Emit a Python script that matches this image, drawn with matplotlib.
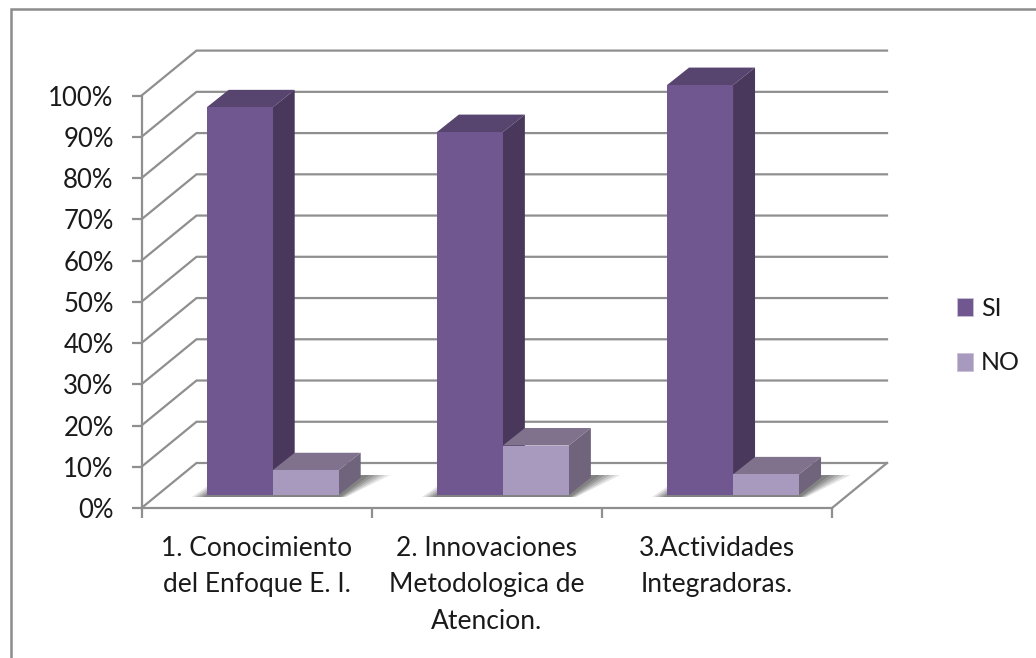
import matplotlib
matplotlib.use("Agg")
import matplotlib.pyplot as plt
from matplotlib.lines import Line2D
from matplotlib.patches import Polygon, Patch
from matplotlib.ticker import FuncFormatter

categories = ["1. Conocimiento\ndel Enfoque E. I.",
              "2. Innovaciones\nMetodologica de\nAtencion.",
              "3.Actividades\nIntegradoras."]
si_values = [94, 88, 99.4]
no_values = [6, 12, 5]
y_ticks = [0, 10, 20, 30, 40, 50, 60, 70, 80, 90, 100]
series_names = ["SI", "NO"]

W, H = 1036, 658
plt.rcParams['font.family'] = ['Lato', 'DejaVu Sans']
fig = plt.figure(figsize=(W / 100, H / 100), dpi=100)
fig.patch.set_facecolor('white')
fig.add_artist(Line2D([10.5 / W, 10.5 / W, 1], [0, 1 - 8.5 / H, 1 - 8.5 / H],
                      transform=fig.transFigure, color='#8c8c8c', lw=1.8,
                      solid_joinstyle='miter'))

L, R, T, B = 141.5, 832, 95.6, 508
ax = fig.add_axes([L / W, 1 - B / H, (R - L) / W, (B - T) / H])
ax.set_xlim(0, 3)
ax.set_ylim(0, 100)
ax.patch.set_alpha(0)

px = 3 / (R - L)
py = 100 / (B - T)
wall_dx, wall_dy = 55 * px, 45 * py
grid = '#8f8f8f'
for v in y_ticks:
    ax.plot([0, wall_dx, 3 + wall_dx], [v, v + wall_dy, v + wall_dy],
            color=grid, lw=1.6, clip_on=False, zorder=1, solid_joinstyle='miter')
ax.plot([3, 3 + wall_dx], [0, wall_dy], color=grid, lw=1.6, clip_on=False, zorder=1)

colors = {
    "SI": ('#70578f', '#574570', '#49375c'),
    "NO": ('#a899bf', '#80728c', '#6f647c'),
}
bar_w = 66 * px
base_dx, base_dy = 16 * px, 13 * py
side_dx, side_dy = 22 * px, 17.5 * py


def box(x0, val, cols, z):
    y0 = base_dy
    y1 = base_dy + val
    x1 = x0 + bar_w
    ax.add_patch(Polygon([(x0, y1), (x1, y1), (x1 + side_dx, y1 + side_dy), (x0 + side_dx, y1 + side_dy)],
                         fc=cols[1], ec='none', clip_on=False, zorder=z))
    ax.add_patch(Polygon([(x1, y0), (x1 + side_dx, y0 + side_dy), (x1 + side_dx, y1 + side_dy), (x1, y1)],
                         fc=cols[2], ec='none', clip_on=False, zorder=z))
    ax.add_patch(Polygon([(x0, y0), (x1, y0), (x1, y1), (x0, y1)],
                         fc=cols[0], ec='none', clip_on=False, zorder=z))


def shadow(x0):
    for k, a in ((1.0, .14), (.8, .18), (.6, .22), (.4, .26), (.2, .28)):
        grow = k * 15 * px
        y_low = base_dy - 2 * py
        y_high = base_dy + 20 * py
        xa = x0 - grow
        xb = x0 + 2 * bar_w + grow * .5
        ax.add_patch(Polygon([(xa, y_low), (xb, y_low), (xb + 26 * px + grow * 1.2, y_high),
                              (xa + 32 * px, y_high)],
                             fc='#505050', ec='none', alpha=a, clip_on=False, zorder=2))


for i, (s, n) in enumerate(zip(si_values, no_values)):
    start = i + (206.7 - L) * px
    shadow(start)
    box(start, s, colors["SI"], 3)
    box(start + bar_w, n, colors["NO"], 4)

for sp in ('top', 'right'):
    ax.spines[sp].set_visible(False)
for sp in ('left', 'bottom'):
    ax.spines[sp].set_color(grid)
    ax.spines[sp].set_linewidth(1.6)
ax.set_yticks(y_ticks)
ax.yaxis.set_major_formatter(FuncFormatter(lambda v, _: f"{v:.0f}%"))
ax.set_xticks([0, 1, 2, 3])
ax.set_xticklabels([])
ax.set_xticks([.5, 1.5, 2.5], minor=True)
ax.set_xticklabels(categories, minor=True, fontsize=19, color='#1a1a1a', linespacing=1.57, va='top')
ax.tick_params(axis='x', which='minor', length=0, pad=20)
ax.tick_params(axis='both', which='major', length=7, width=1.6, color=grid)
ax.tick_params(axis='y', labelsize=18.5, labelcolor='#1a1a1a', pad=13)

handles = [Patch(fc=colors[n][0], ec='#c9c0d6', lw=.6, label=n) for n in series_names]
fig.legend(handles=handles, loc='upper left', bbox_to_anchor=(957 / W, 1 - 297 / H), frameon=False,
           fontsize=18, handlelength=.65, handleheight=.75, labelspacing=1.26, handletextpad=.3,
           labelcolor='#1a1a1a', borderpad=0, borderaxespad=0)

fig.savefig("out.png", dpi=100)
